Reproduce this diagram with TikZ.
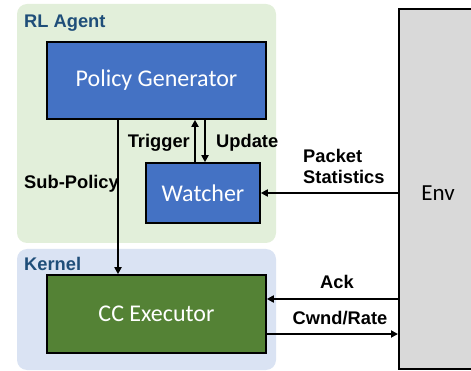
\documentclass[tikz,border=0pt]{standalone}
\usepackage{fontspec}
\setmainfont{Liberation Sans}
\newfontfamily\boxfont{Carlito}
\usetikzlibrary{arrows.meta}
\definecolor{agentbg}{RGB}{226,239,218}
\definecolor{kernelbg}{RGB}{218,227,243}
\definecolor{pgblue}{RGB}{68,114,196}
\definecolor{ccgreen}{RGB}{84,130,53}
\definecolor{envgray}{RGB}{217,217,217}
\definecolor{paneltext}{RGB}{31,78,121}
\tikzset{
  panel/.style={rounded corners=10pt, draw=none, inner sep=0pt},
  blk/.style={draw=black, line width=1.6pt, inner sep=0pt, text=white, font=\boxfont\fontsize{24}{28}\selectfont},
  arr/.style={line width=2.2pt, -{Triangle[length=7pt,width=7pt]}},
  lbl/.style={font=\bfseries\fontsize{18.3}{21}\selectfont, text=black, inner sep=0pt},
  ptitle/.style={font=\bfseries\fontsize{18.3}{21}\selectfont, text=paneltext, inner sep=0pt, anchor=west}
}
\begin{document}
\begin{tikzpicture}[x=1pt,y=-1pt]
\useasboundingbox (0,0) rectangle (471,371);
% panels
\fill[agentbg, rounded corners=10pt] (17,4) rectangle (276,243);
\fill[kernelbg, rounded corners=10pt] (17,249) rectangle (276,370);
\node[ptitle] (tRL) at (24,23) {RL Agent};
\node[ptitle] (tK) at (24,264) {Kernel};
% boxes
\node[blk, fill=pgblue, minimum width=219pt, minimum height=77pt] (PG) at (156.5,80.5) {Policy Generator};
\node[blk, fill=pgblue, minimum width=114pt, minimum height=60pt] (W) at (203,193) {Watcher};
\node[blk, fill=ccgreen, minimum width=219pt, minimum height=78pt] (CC) at (156.5,314) {CC Executor};
\node[draw=black, line width=1.6pt, fill=envgray, minimum width=90pt, minimum height=360pt, inner sep=0pt, anchor=north west] (Env) at (398,8) {};
\node[font=\boxfont\fontsize{23}{27}\selectfont] (EnvT) at (438,193) {Env};
% coordinates
\coordinate (sx) at (118,0);
\coordinate (tx) at (195,0);
\coordinate (ux) at (205,0);
\coordinate (ay) at (0,299);
\coordinate (cy) at (0,334);
% arrows
\draw[arr] (PG.south -| sx) -- (CC.north -| sx);
\draw[arr] (W.north -| tx) -- (PG.south -| tx);
\draw[arr] (PG.south -| ux) -- (W.north -| ux);
\draw[arr] (Env.west |- W.east) -- (W.east);
\draw[arr] (Env.west |- ay) -- (CC.east |- ay);
\draw[arr] (CC.east |- cy) -- (Env.west |- cy);
% labels
\node[lbl, anchor=east] (lT) at (190,143) {Trigger};
\node[lbl, anchor=west] (lU) at (216,143) {Update};
\node[lbl, anchor=west] (lS) at (24,184) {Sub-Policy};
\node[lbl, anchor=west, align=left] (lP) at (303,166) {Packet\\Statistics};
\node[lbl] (lA) at (337,282) {Ack};
\node[lbl] (lC) at (340,318) {Cwnd/Rate};
\end{tikzpicture}
\end{document}
